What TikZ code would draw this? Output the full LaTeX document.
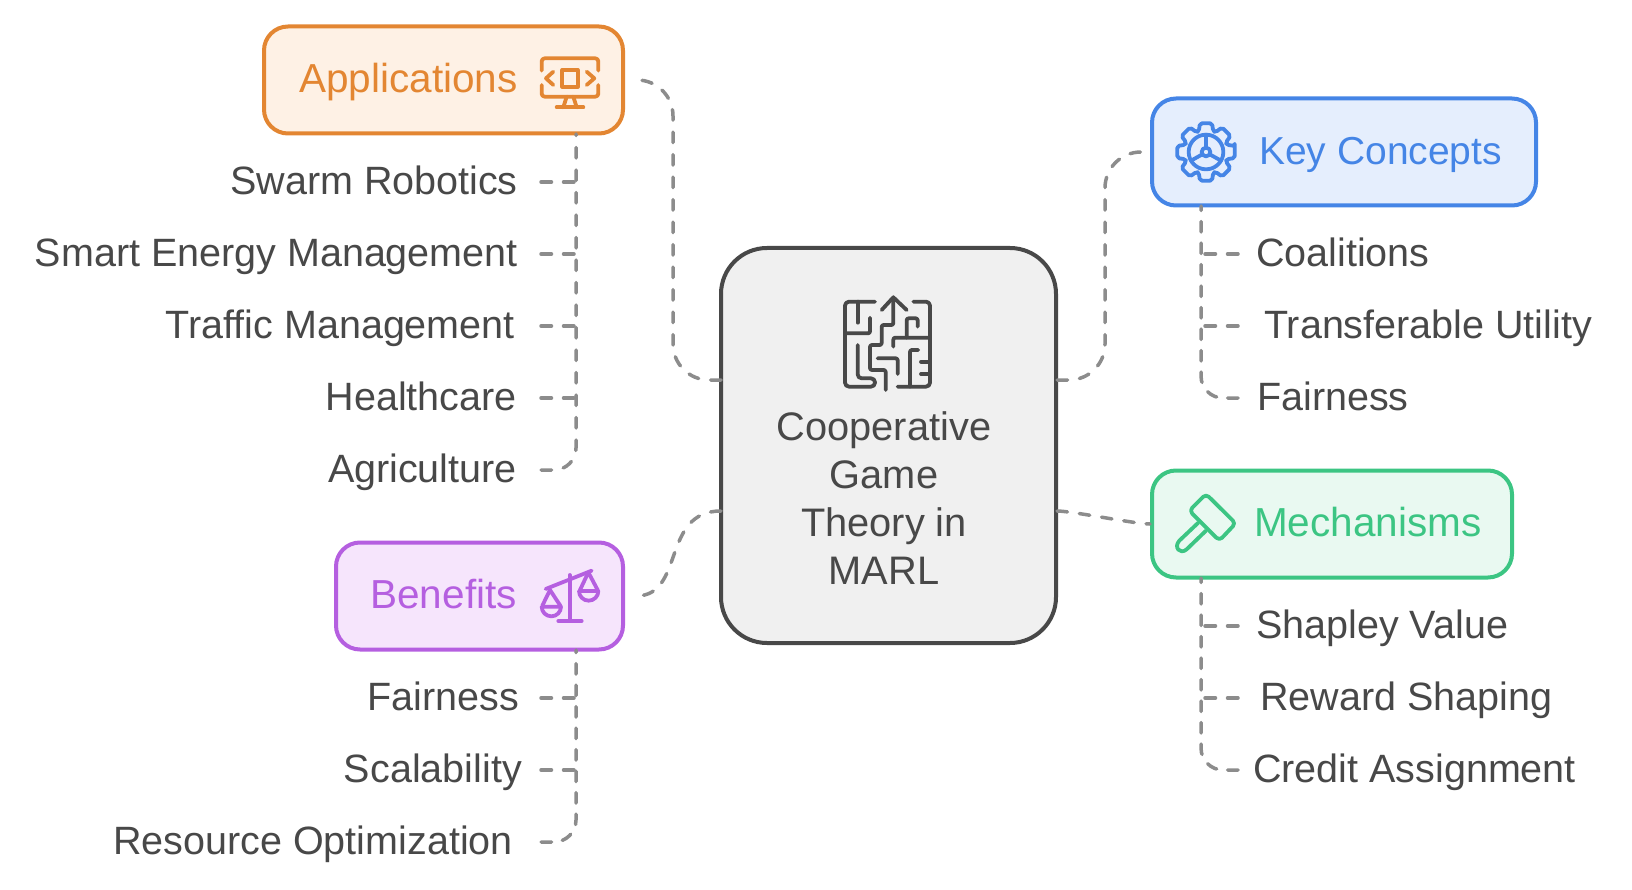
\documentclass[tikz,border=0pt]{standalone}
\usepackage{fontspec}
\setmainfont{Liberation Sans}
\definecolor{inkgray}{HTML}{484848}
\definecolor{linkgray}{HTML}{8C8C8C}
\definecolor{coregray}{HTML}{F0F0F0}
\definecolor{orangeline}{HTML}{E38632}
\definecolor{orangefill}{HTML}{FEF1E5}
\definecolor{blueline}{HTML}{4585E6}
\definecolor{bluefill}{HTML}{E5EEFD}
\definecolor{greenline}{HTML}{3CC583}
\definecolor{greenfill}{HTML}{E9F9F1}
\definecolor{purpleline}{HTML}{B55FE0}
\definecolor{purplefill}{HTML}{F6E5FC}
\begin{document}
\begin{tikzpicture}[x=1pt,y=-1pt,
    leaftext/.style={text=inkgray,inner sep=0pt,text height=31pt,text depth=6pt,font=\fontsize{39.5}{48}\selectfont},
    hub/.style={draw=#1line,fill=#1fill,line width=4pt,rounded corners=24pt,minimum height=107pt},
    hubtext/.style={inner sep=0pt,text height=31.5pt,text depth=6pt,text=#1line,font=\fontsize{40.5}{48}\selectfont},
    link/.style={draw=linkgray,line width=3.5pt,line cap=round,dash pattern=on 10.5pt off 12pt},
    trunk/.style={link,rounded corners=22pt,dash pattern=on 10.5pt off 11pt},
    icon/.style={line width=3.8pt,line cap=round,line join=round}]
    \useasboundingbox (0,0) rectangle (1632,890);
    \node[draw=inkgray,fill=coregray,line width=4pt,rounded corners=46pt,minimum width=335pt,minimum height=395pt,inner sep=0pt](core) at (888.5,445.5){};
    \node[hub=orange,minimum width=359pt](apps) at (443.5,80){};
    \node[hub=blue,minimum width=384pt](key) at (1344,152){};
    \node[hub=green,minimum width=360pt](mech) at (1332,524){};
    \node[hub=purple,minimum width=287pt](bene) at (479.5,596){};
    \node[text=inkgray,align=center,inner sep=0pt,font=\fontsize{39.8}{48}\selectfont](coretext) at (884,498.5){Cooperative\\Game\\Theory in\\MARL};
    \node[hubtext=orange,anchor=east](appstext) at (518,80){Applications};
    \node[hubtext=blue,anchor=west,font=\fontsize{39}{48}\selectfont](keytext) at (1259,152){Key Concepts};
    \node[hubtext=green,anchor=west](mechtext) at (1254,524){Mechanisms};
    \node[hubtext=purple,anchor=east](benetext) at (517,596){Benefits};
    \node[leaftext,anchor=east](swarm) at (518,182){Swarm Robotics};
    \node[leaftext,anchor=east](smart) at (518,254){Smart Energy Management};
    \node[leaftext,anchor=east](traffic) at (515,326){Traffic Management};
    \node[leaftext,anchor=east](health) at (517,398){Healthcare};
    \node[leaftext,anchor=east](agri) at (517,470){Agriculture};
    \node[leaftext,anchor=east](fair) at (519,698){Fairness};
    \node[leaftext,anchor=east](scale) at (522,770){Scalability};
    \node[leaftext,anchor=east](resource) at (513,842){Resource Optimization};
    \node[leaftext,anchor=west](coal) at (1256,254){Coalitions};
    \node[leaftext,anchor=west](trans) at (1264,326){Transferable Utility};
    \node[leaftext,anchor=west](fairkey) at (1257,398){Fairness};
    \node[leaftext,anchor=west](shap) at (1256,626){Shapley Value};
    \node[leaftext,anchor=west](reward) at (1260,698){Reward Shaping};
    \node[leaftext,anchor=west](credit) at (1253,770){Credit Assignment};
    \coordinate(corewa) at (721,380);
    \coordinate(corewb) at (721,511);
    \coordinate(coreea) at (1057,380);
    \coordinate(coreeb) at (1057,511);
    \coordinate(midapps) at (673,230);
    \coordinate(midkey) at (1105,266);
    \coordinate(appstop) at (576,134);
    \coordinate(benetop) at (576,650);
    \coordinate(keytop) at (1201,206);
    \coordinate(mechtop) at (1201,578);
    \coordinate(leftend) at (541,300);
    \coordinate(rightend) at (1238,300);
    \draw[link,rounded corners=36pt,shorten >=11pt](corewa) -| (midapps) |- (apps.east);
    \draw[link,shorten >=11pt](corewb) to [out=180,in=0,looseness=1.2] (bene.east);
    \draw[link,rounded corners=36pt,shorten >=11pt](coreea) -| (midkey) |- (key.west);
    \draw[link](coreeb) to [out=0,in=180,looseness=.4] (mech.west);
    \foreach \leaf in {swarm,smart,traffic,health}
        \draw[link](\leaf.east -| leftend) -- (\leaf.east -| appstop);
    \foreach \leaf in {fair,scale}
        \draw[link](\leaf.east -| leftend) -- (\leaf.east -| benetop);
    \foreach \leaf in {coal,trans}
        \draw[link](\leaf.west -| rightend) -- (\leaf.west -| keytop);
    \foreach \leaf in {shap,reward}
        \draw[link](\leaf.west -| rightend) -- (\leaf.west -| mechtop);
    \draw[link,rounded corners=22pt](agri.east -| leftend) -| (appstop);
    \draw[trunk](resource.east -| leftend) -| (benetop);
    \draw[trunk](fairkey.west -| rightend) -| (keytop);
    \draw[trunk](credit.west -| rightend) -| (mechtop);
    \begin{scope}[shift={(835,290)},x=.3333pt,y=-.3333pt,icon,draw=inkgray]
        \draw[rounded corners=4pt](120,35) -- (30,35) -- (30,290) -- (120,290) -- (120,265) -- (68,265) -- (68,165);
        \draw(68,35) -- (68,98);
        \draw[rounded corners=2pt](30,130) -- (105,130) -- (105,83);
        \draw(140,60) -- (175,22) -- (215,60);
        \draw[rounded corners=2pt](175,22) -- (175,105) -- (140,105) -- (140,165) -- (105,165) -- (105,240) -- (152,240) -- (152,300);
        \draw[rounded corners=2pt](128,205) -- (188,205) -- (188,252);
        \draw[rounded corners=4pt](235,35) -- (285,35) -- (285,290) -- (188,290);
        \draw[rounded corners=2pt](175,170) -- (175,143) -- (285,143);
        \draw[rounded corners=2pt](215,143) -- (215,85) -- (248,85) -- (248,110);
        \draw[rounded corners=2pt](250,180) -- (225,180) -- (225,290);
        \draw(258,215) -- (285,215);
        \draw(258,252) -- (285,252);
    \end{scope}
    \begin{scope}[shift={(535,50)},x=.3333pt,y=-.3333pt,icon,draw=orangeline]
        \draw[rounded corners=3pt](20,62) -- (20,25) -- (190,25) -- (190,62);
        \draw[rounded corners=3pt](20,105) -- (20,140) -- (190,140) -- (190,105);
        \draw(55,65) -- (33,85) -- (55,105);
        \draw(155,65) -- (178,85) -- (155,105);
        \draw(82,60) rectangle (128,110);
        \draw(95,140) -- (85,172);
        \draw(115,140) -- (125,172);
        \draw(65,172) -- (145,172);
    \end{scope}
    \begin{scope}[shift={(1206,152)},x=.3333pt,y=-.3333pt,icon,draw=blueline]
        \draw[rounded corners=2pt](-12:88) foreach \a in {0,45,...,315}{-- (\a-12:88) -- (\a+12:88) -- (\a+19:66) -- (\a+26:66)} -- cycle;
        \draw(0,0) circle (52);
        \draw(0,0) circle (13);
        \draw(0,-13) -- (0,-52);
        \draw(11,7) -- (45,26);
        \draw(-11,7) -- (-45,26);
    \end{scope}
    \begin{scope}[shift={(1170,490)},x=.3333pt,y=-.3333pt,icon,draw=greenline]
        \draw[rounded corners=4pt](108,12) -- (197,100) -- (148,152) -- (58,62) -- cycle;
        \draw(85,98) -- (28,152) .. controls (10,172) and (30,195) .. (50,178) -- (108,122);
    \end{scope}
    \begin{scope}[shift={(535,565)},x=.3333pt,y=-.3333pt,icon,draw=purpleline]
        \draw(32,72) -- (170,17);
        \draw(104,30) -- (104,168);
        \draw(70,168) -- (140,168);
        \draw(22,122) -- (45,75) -- (76,122);
        \draw(20,125) -- (78,125) arc[start angle=0,end angle=180,radius=29];
        \draw(135,75) -- (160,22) -- (188,75);
        \draw(132,78) -- (190,78) arc[start angle=0,end angle=180,radius=29];
    \end{scope}
\end{tikzpicture}
\end{document}
